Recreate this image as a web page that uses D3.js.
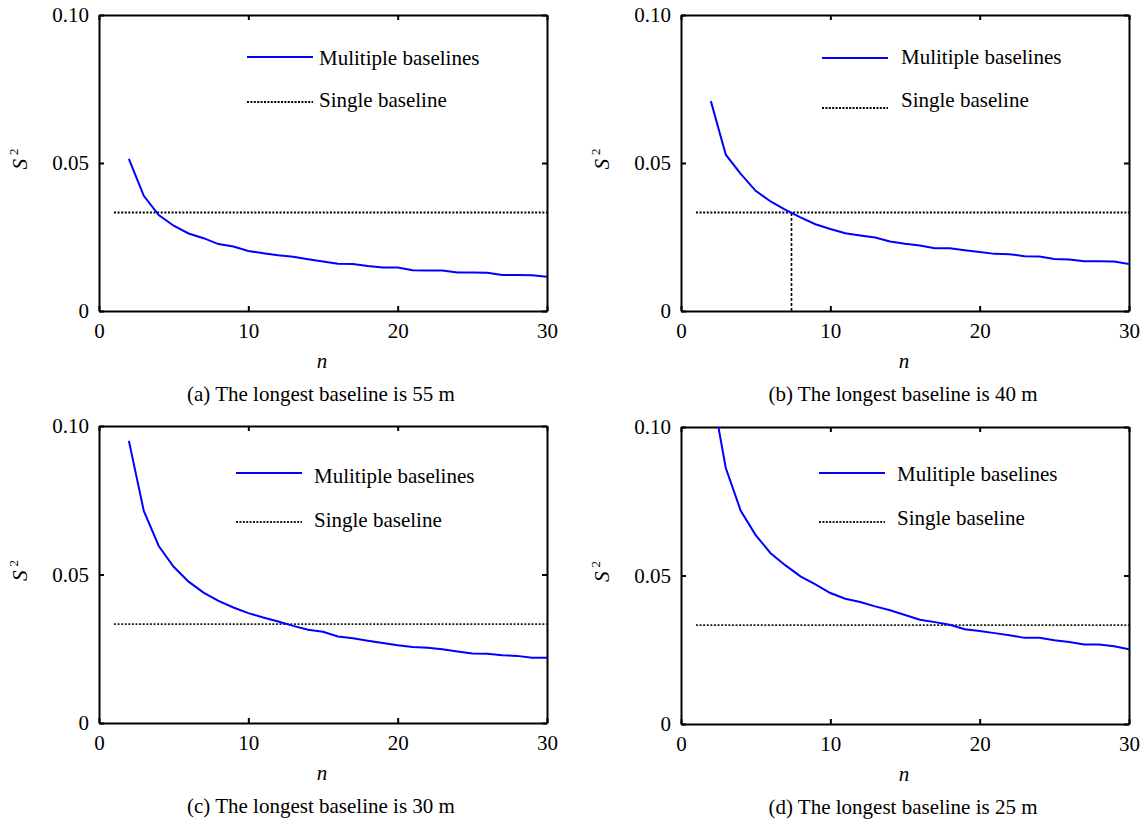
<!DOCTYPE html>
<html>
<head>
<meta charset="utf-8">
<script src="https://cdn.jsdelivr.net/npm/d3@7"></script>
<style>
  body { margin: 0; background: #fff; }
  text { font-family: "Liberation Serif", "Times New Roman", serif; fill: #000; }
</style>
</head>
<body>
<svg id="chart" width="1145" height="820"></svg>
<script>
// number of baselines n
const nValues = [2, 3, 4, 5, 6, 7, 8, 9, 10, 11, 12, 13, 14, 15, 16, 17, 18, 19, 20,
  21, 22, 23, 24, 25, 26, 27, 28, 29, 30];

// S^2 for multiple baselines, one list per panel
const multi55 = [0.0514, 0.0389, 0.0324, 0.0288, 0.0262, 0.0246, 0.0226, 0.0218, 0.0203,
  0.0195, 0.0188, 0.0183, 0.0175, 0.0167, 0.0160, 0.0159, 0.0152, 0.0147, 0.0147,
  0.0138, 0.0137, 0.0137, 0.0130, 0.0130, 0.0129, 0.0122, 0.0122, 0.0121, 0.0116];
const multi40 = [0.0709, 0.0528, 0.0463, 0.0406, 0.0370, 0.0342, 0.0316, 0.0293, 0.0277,
  0.0263, 0.0255, 0.0248, 0.0235, 0.0227, 0.0221, 0.0212, 0.0212, 0.0205, 0.0199,
  0.0193, 0.0192, 0.0185, 0.0184, 0.0176, 0.0174, 0.0168, 0.0168, 0.0167, 0.0159];
const multi30 = [0.0950, 0.0714, 0.0596, 0.0526, 0.0476, 0.0439, 0.0411, 0.0389, 0.0370,
  0.0355, 0.0342, 0.0327, 0.0314, 0.0307, 0.0291, 0.0285, 0.0277, 0.0269, 0.0262,
  0.0256, 0.0253, 0.0248, 0.0241, 0.0234, 0.0233, 0.0228, 0.0226, 0.0220, 0.0220];
const multi25 = [0.1140, 0.0862, 0.0718, 0.0636, 0.0575, 0.0534, 0.0497, 0.0470, 0.0441,
  0.0422, 0.0411, 0.0396, 0.0383, 0.0367, 0.0351, 0.0343, 0.0334, 0.0319, 0.0313,
  0.0306, 0.0299, 0.0290, 0.0290, 0.0282, 0.0276, 0.0268, 0.0268, 0.0262, 0.0252];

// single baseline level, drawn from n = 1 to n = 30
const singleN = [1, 30];
const singleValue = 0.0333;
// crossing marked in panel (b)
const crossN = 7.4;

const xTicks = [0, 10, 20, 30];
const yTicks = [0, 0.05, 0.10];
const yTickLabels = ['0', '0.05', '0.10'];
const legendLabels = ['Mulitiple baselines', 'Single baseline'];
const captions = [
  '(a) The longest baseline is 55 m',
  '(b) The longest baseline is 40 m',
  '(c) The longest baseline is 30 m',
  '(d) The longest baseline is 25 m'
];

// panel layout
const panels = [
  { id: 'a', left: 99, top: 15, w: 448, h: 296, values: multi55, legX: 148, legTx: 72, legY: [42, 87], legTextY: [43, 85], dotColor: '#000', cross: false },
  { id: 'b', left: 681, top: 15, w: 448, h: 296, values: multi40, legX: 141, legTx: 79, legY: [43, 93], legTextY: [42, 85], dotColor: '#000', cross: true },
  { id: 'c', left: 99, top: 426, w: 448, h: 297, values: multi30, legX: 137, legTx: 78, legY: [47, 96], legTextY: [50, 94], dotColor: '#0d260d', cross: false },
  { id: 'd', left: 681, top: 427, w: 448, h: 297, values: multi25, legX: 138, legTx: 78, legY: [46, 95], legTextY: [47, 91], dotColor: '#0d260d', cross: false }
];

const svg = d3.select('#chart');
const serif = '"Liberation Serif", "Times New Roman", serif';
const tickFont = 21;
const textFont = 21;

panels.forEach((p, i) => {
  const g = svg.append('g').attr('transform', `translate(${p.left},${p.top})`);
  const x = d3.scaleLinear().domain([0, 30]).range([0, p.w]);
  const y = d3.scaleLinear().domain([0, 0.10]).range([p.h, 0]);

  g.append('clipPath').attr('id', 'clip' + p.id)
    .append('rect').attr('width', p.w).attr('height', p.h);

  // axes with inward ticks on all four sides
  g.append('g').attr('transform', `translate(0,${p.h})`)
    .call(d3.axisBottom(x).tickValues(xTicks).tickSize(-5).tickSizeOuter(0).tickPadding(12));
  g.append('g')
    .call(d3.axisLeft(y).tickValues(yTicks).tickSize(-5).tickSizeOuter(0).tickPadding(10)
      .tickFormat((d, k) => yTickLabels[k]));
  g.append('g')
    .call(d3.axisTop(x).tickValues(xTicks).tickSize(-5).tickSizeOuter(0).tickFormat(''));
  g.append('g').attr('transform', `translate(${p.w},0)`)
    .call(d3.axisRight(y).tickValues(yTicks).tickSize(-5).tickSizeOuter(0).tickFormat(''));

  g.selectAll('g').attr('font-family', serif).attr('font-size', tickFont);
  g.selectAll('.domain, .tick line').attr('stroke', '#000').attr('stroke-width', 2);
  g.selectAll('.tick text')
    .style('font-family', serif)
    .style('font-size', tickFont + 'px').attr('fill', '#000');

  // single baseline
  const flat = d3.line().x(d => x(d)).y(() => y(singleValue));
  g.append('path').datum(singleN)
    .attr('d', flat)
    .attr('fill', 'none').attr('stroke', p.dotColor)
    .attr('stroke-width', 1.9).attr('stroke-dasharray', '2,1.6');

  if (p.cross) {
    g.append('line')
      .attr('x1', x(crossN)).attr('x2', x(crossN))
      .attr('y1', y(0)).attr('y2', y(singleValue))
      .attr('stroke', '#000').attr('stroke-width', 1.6).attr('stroke-dasharray', '3,2');
  }

  // multiple baselines
  const line = d3.line().x((d, k) => x(nValues[k])).y(d => y(d));
  g.append('path').datum(p.values)
    .attr('clip-path', `url(#clip${p.id})`)
    .attr('d', line)
    .attr('fill', 'none').attr('stroke', '#0000ff').attr('stroke-width', 2);

  // legend
  const leg = g.append('g').attr('transform', `translate(${p.legX},0)`);
  leg.append('line').attr('x1', 0).attr('x2', 66)
    .attr('y1', p.legY[0]).attr('y2', p.legY[0])
    .attr('stroke', '#0000ff').attr('stroke-width', 2.2);
  leg.append('line').attr('x1', 0).attr('x2', 66)
    .attr('y1', p.legY[1]).attr('y2', p.legY[1])
    .attr('stroke', p.dotColor).attr('stroke-width', 1.9).attr('stroke-dasharray', '2,1.4');
  legendLabels.forEach((t, k) => {
    leg.append('text').attr('x', p.legTx).attr('y', p.legTextY[k]).attr('dy', '0.33em')
      .style('font-family', serif).style('font-size', textFont + 'px').text(t);
  });

  // axis titles
  g.append('text')
    .attr('x', p.w / 2 - 1).attr('y', p.h + 57)
    .attr('text-anchor', 'middle').style('font-family', serif).style('font-size', textFont + 'px')
    .style('font-style', 'italic').text('n');

  const yl = g.append('text')
    .attr('transform', `translate(${-72},${p.h / 2 - 4}) rotate(-90)`)
    .attr('text-anchor', 'middle').style('font-family', serif).style('font-size', textFont + 'px');
  yl.append('tspan').style('font-style', 'italic').text('S');
  yl.append('tspan').attr('dx', 4).attr('dy', -9).style('font-size', '13px').text('2');

  // caption
  g.append('text')
    .attr('x', p.w / 2 - 2).attr('y', p.h + 90)
    .attr('text-anchor', 'middle').style('font-family', serif).style('font-size', textFont + 'px')
    .text(captions[i]);
});
</script>
</body>
</html>
